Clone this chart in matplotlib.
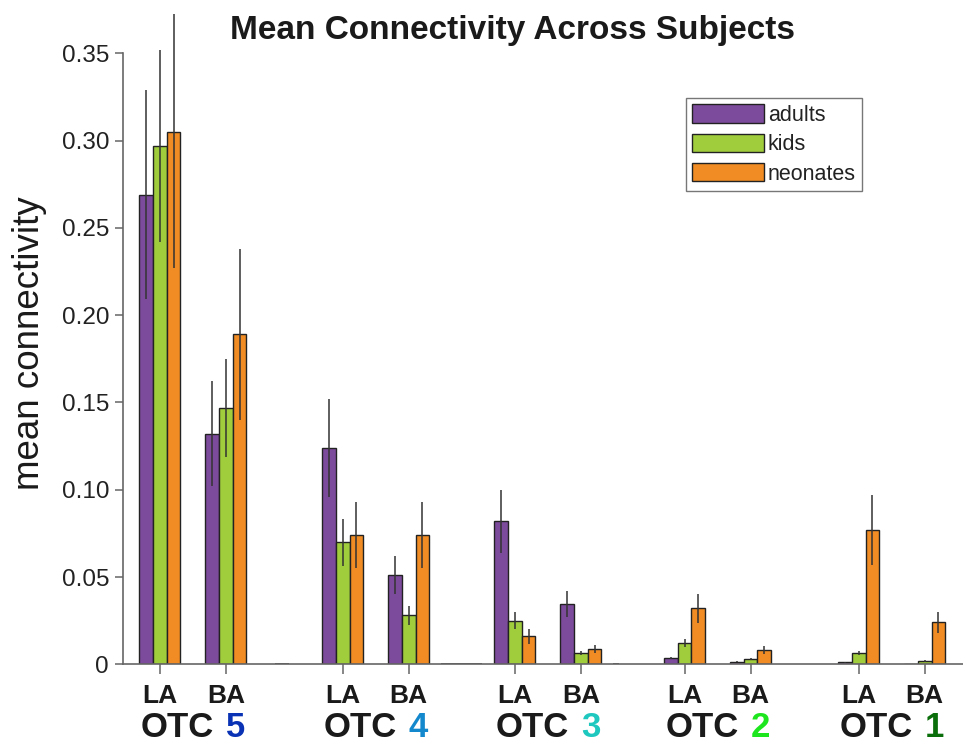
import matplotlib
matplotlib.use("Agg")
import matplotlib.pyplot as plt
import numpy as np

plt.rcParams['font.family'] = ['Liberation Sans', 'DejaVu Sans']

# Bar order: LA / BA for each OTC region, from OTC 5 down to OTC 1
regions = ["5", "4", "3", "2", "1"]
region_colors = ["#0a32b4", "#1488cc", "#1ec8be", "#1ee61e", "#0a6e0a"]
subregions = ["LA", "BA"]
groups = ["adults", "kids", "neonates"]

adults = [0.269, 0.132, 0.124, 0.051, 0.082, 0.0345, 0.0034, 0.0015, 0.0013, 0.0003]
kids = [0.297, 0.147, 0.070, 0.028, 0.025, 0.0067, 0.012, 0.003, 0.0063, 0.0019]
neonates = [0.305, 0.189, 0.074, 0.074, 0.016, 0.0088, 0.032, 0.0082, 0.077, 0.024]

adults_err = [0.060, 0.030, 0.028, 0.011, 0.018, 0.0075, 0.0005, 0.0003, 0.0003, 0.0001]
kids_err = [0.055, 0.028, 0.0135, 0.0055, 0.0048, 0.0012, 0.0023, 0.0008, 0.0012, 0.0004]
neonates_err = [0.078, 0.049, 0.019, 0.019, 0.0045, 0.0024, 0.0084, 0.0023, 0.020, 0.006]

# empty separator slots between regions
spacer_values = [0.0, 0.0, 0.0]

yticks = [0, 0.05, 0.10, 0.15, 0.20, 0.25, 0.30, 0.35]
ytick_labels = ["0", "0.05", "0.10", "0.15", "0.20", "0.25", "0.30", "0.35"]

colors = ["#7d4b9c", "#a0cd3c", "#f08c23"]

# layout
la_pos = np.array([0.0, 2.77, 5.38, 7.95, 10.59])
pos = np.ravel(np.column_stack([la_pos, la_pos + 1.0]))
spacer_pos = [1.85, 4.57, 6.91]
spacer_w = [0.207, 0.62, 0.1]
w = 0.207

fig = plt.figure(figsize=(9.63, 7.46), dpi=100)
ax = fig.add_axes([0.1277, 1 - 664.3 / 746, 1 - 0.1277, (664.3 - 14) / 746])

series = [adults, kids, neonates]
errs = [adults_err, kids_err, neonates_err]
for i, (vals, err, c, name) in enumerate(zip(series, errs, colors, groups)):
    x = pos + (i - 1) * w
    ax.bar(x, vals, width=w, color=c, edgecolor="#222222", linewidth=1.0,
           label=name, zorder=2)
    ax.errorbar(x, vals, yerr=err, fmt="none", ecolor="#333333",
                elinewidth=1.1, capsize=0, zorder=3)

for p, sw, v in zip(spacer_pos, spacer_w, spacer_values):
    ax.bar(p, v, width=sw, color="none", edgecolor="#333333", linewidth=1.2,
           zorder=2)

ax.set_xlim(-0.56, 12.17)
ax.set_ylim(0, 0.3725)
ax.spines["top"].set_visible(False)
ax.spines["right"].set_visible(False)
for s in ("left", "bottom"):
    ax.spines[s].set_color("#666666")
    ax.spines[s].set_linewidth(1.2)
ax.spines["left"].set_bounds(0, 0.35)

ax.set_yticks(yticks)
ax.set_yticklabels(ytick_labels, fontsize=17.5, color="#222222")
ax.tick_params(axis="y", direction="out", length=6, width=1.1, color="#666666", pad=4)

ax.set_xticks(pos)
ax.set_xticklabels(subregions * len(regions), fontsize=19, fontweight="bold",
                   color="#1a1a1a")
ax.tick_params(axis="x", direction="out", length=7, width=1.1, color="#666666", pad=7)

# region labels: "OTC" in black, region number in its own colour
for lp, r, rc in zip(la_pos, regions, region_colors):
    cx = lp + 0.5
    ax.annotate("OTC", xy=(cx, 0), xycoords=("data", "axes fraction"),
                xytext=(21, -63), textcoords="offset pixels",
                ha="right", va="center", fontsize=25, fontweight="bold",
                color="#1a1a1a", annotation_clip=False)
    ax.annotate(r, xy=(cx, 0), xycoords=("data", "axes fraction"),
                xytext=(33, -63), textcoords="offset pixels",
                ha="left", va="center", fontsize=25, fontweight="bold",
                color=rc, annotation_clip=False)

fig.text(512 / 963, 1 - 31 / 746, "Mean Connectivity Across Subjects",
         ha="center", va="center", fontsize=24, fontweight="bold", color="#1a1a1a")
fig.text(30 / 963, 1 - 343 / 746, "mean connectivity", rotation=90,
         ha="center", va="center", fontsize=26.5, color="#1a1a1a")

leg = ax.legend(loc="upper left", bbox_to_anchor=(686 / 963, 1 - 98 / 746),
                bbox_transform=fig.transFigure, prop={"size": 15.5}, frameon=True,
                fancybox=False, edgecolor="#555555", handlelength=3.3,
                handleheight=0.95, labelspacing=0.35, handletextpad=0.2,
                borderpad=0.3, borderaxespad=0)
leg.get_frame().set_linewidth(1.0)
for t in leg.get_texts():
    t.set_color("#222222")

fig.savefig("out.png", dpi=100)
